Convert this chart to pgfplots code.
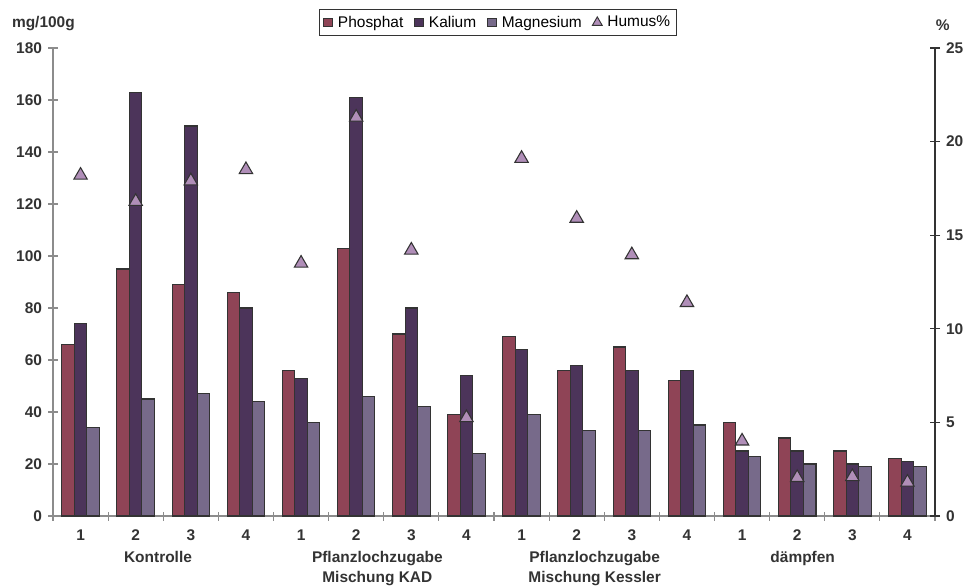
\documentclass[border=0pt]{standalone}
\usepackage{fontspec}
\setmainfont{Liberation Sans}
\usepackage{pgfplots}
\usepackage{pgfplotstable}
\pgfplotsset{compat=1.18}

\definecolor{phos}{RGB}{143,68,86}
\definecolor{kal}{RGB}{76,52,90}
\definecolor{mag}{RGB}{119,106,138}
\definecolor{hum}{RGB}{176,142,184}
\definecolor{edge}{RGB}{51,51,51}
\definecolor{txt}{RGB}{51,51,51}
\definecolor{axgray}{RGB}{140,140,140}

% g = Gruppe, P = Phosphat, K = Kalium, M = Magnesium (mg/100g), H = Humus (%)
\pgfplotstableread{
g  P    K    M   H
1  66   74   34  18.2
2  95   163  45  16.8
3  89   150  47  17.9
4  86   80   44  18.5
5  56   53   36  13.5
6  103  161  46  21.3
7  70   80   42  14.2
8  39   54   24  5.25
9  69   64   39  19.1
10 56   58   33  15.9
11 65   56   33  13.95
12 52   56   35  11.4
13 36   25   23  4.0
14 30   25   20  2.05
15 25   20   19  2.1
16 22   21   19  1.8
}\data

\pgfplotsset{
  sq legend/.style={legend image code/.code={
    \draw[##1,line width=0.6pt] (0pt,-3.3pt) rectangle (6.6pt,3.3pt);}},
  every axis/.append style={font=\fontsize{11.6}{13.5}\selectfont},
}

\begin{document}
\begin{tikzpicture}
\useasboundingbox (0,0) rectangle (722.25pt,-439.5pt);

\begin{axis}[
  at={(39.75pt,-387pt)}, anchor=south west,
  scale only axis, width=661.5pt, height=351pt,
  xmin=0.5, xmax=16.5, ymin=0, ymax=180,
  ytick={0,20,...,180},
  xtick={1,...,16},
  xticklabels={1,2,3,4,1,2,3,4,1,2,3,4,1,2,3,4},
  minor xtick={0.5,1.5,...,16.5},
  axis x line*=bottom, axis y line*=left,
  axis line style={axgray, line width=0.9pt},
  tick align=center,
  major tick length=7.5pt, minor tick length=6.75pt,
  major x tick style={draw=none},
  minor x tick style={axgray, line width=0.9pt},
  y tick style={axgray, line width=0.9pt},
  tick label style={font=\fontsize{11.6}{13.5}\selectfont\bfseries, text=txt},
  /pgf/number format/assume math mode=true,
  xticklabel style={yshift=-3pt},
  yticklabel style={xshift=-1pt},
  legend style={at={(0.5045,1.0545)}, anchor=center, draw=edge, line width=0.6pt,
    fill=white, inner xsep=2.5pt, inner ysep=2.8pt, text=black,
    /tikz/every odd column/.append style={column sep=2pt},
    /tikz/every even column/.append style={column sep=6pt}},
  legend columns=4,
  legend cell align=left,
  clip=false,
]
\addplot[ybar, bar width=0.227, bar shift=-0.227, fill=phos, draw=edge, line width=0.8pt, sq legend]
  table[x=g, y=P]{\data};
\addlegendentry{Phosphat}
\addplot[ybar, bar width=0.227, bar shift=0, fill=kal, draw=edge, line width=0.8pt, sq legend]
  table[x=g, y=K]{\data};
\addlegendentry{Kalium}
\addplot[ybar, bar width=0.227, bar shift=0.227, fill=mag, draw=edge, line width=0.8pt, sq legend]
  table[x=g, y=M]{\data};
\addlegendentry{Magnesium}
\addlegendimage{only marks, mark=triangle*, mark size=4.2pt,
  mark options={fill=hum, draw=edge, line width=0.7pt}}
\addlegendentry{Humus\%}
\end{axis}

\begin{axis}[
  at={(39.75pt,-387pt)}, anchor=south west,
  scale only axis, width=661.5pt, height=351pt,
  xmin=0.5, xmax=16.5, ymin=0, ymax=25,
  ytick={0,5,...,25},
  axis x line=none, axis y line*=right,
  axis line style={edge, line width=0.9pt},
  tick align=center, major tick length=7.5pt,
  y tick style={edge, line width=0.9pt},
  tick label style={font=\fontsize{11.6}{13.5}\selectfont\bfseries, text=txt},
  /pgf/number format/assume math mode=true,
  yticklabel style={xshift=1pt},
  clip=false,
]
\addplot[only marks, mark=triangle*, mark size=5.8pt,
  mark options={fill=hum, draw=edge, line width=0.8pt}]
  table[x=g, y=H]{\data};
\end{axis}

\node[anchor=west, font=\fontsize{11.6}{13.5}\selectfont\bfseries, text=txt] at (5.5pt,-18pt) {mg/100g};
\node[font=\fontsize{11.6}{13.5}\selectfont\bfseries, text=txt] at (707pt,-19pt) {\%};

\begin{scope}[every node/.style={font=\fontsize{11.6}{15}\selectfont\bfseries, text=txt, align=center, anchor=north, inner sep=0pt}]
\node at (118.5pt,-413pt) {Kontrolle};
\node at (283pt,-413pt) {Pflanzlochzugabe\\Mischung KAD};
\node at (446pt,-413pt) {Pflanzlochzugabe\\Mischung Kessler};
\node at (602pt,-413pt) {dämpfen};
\end{scope}
\end{tikzpicture}
\end{document}
